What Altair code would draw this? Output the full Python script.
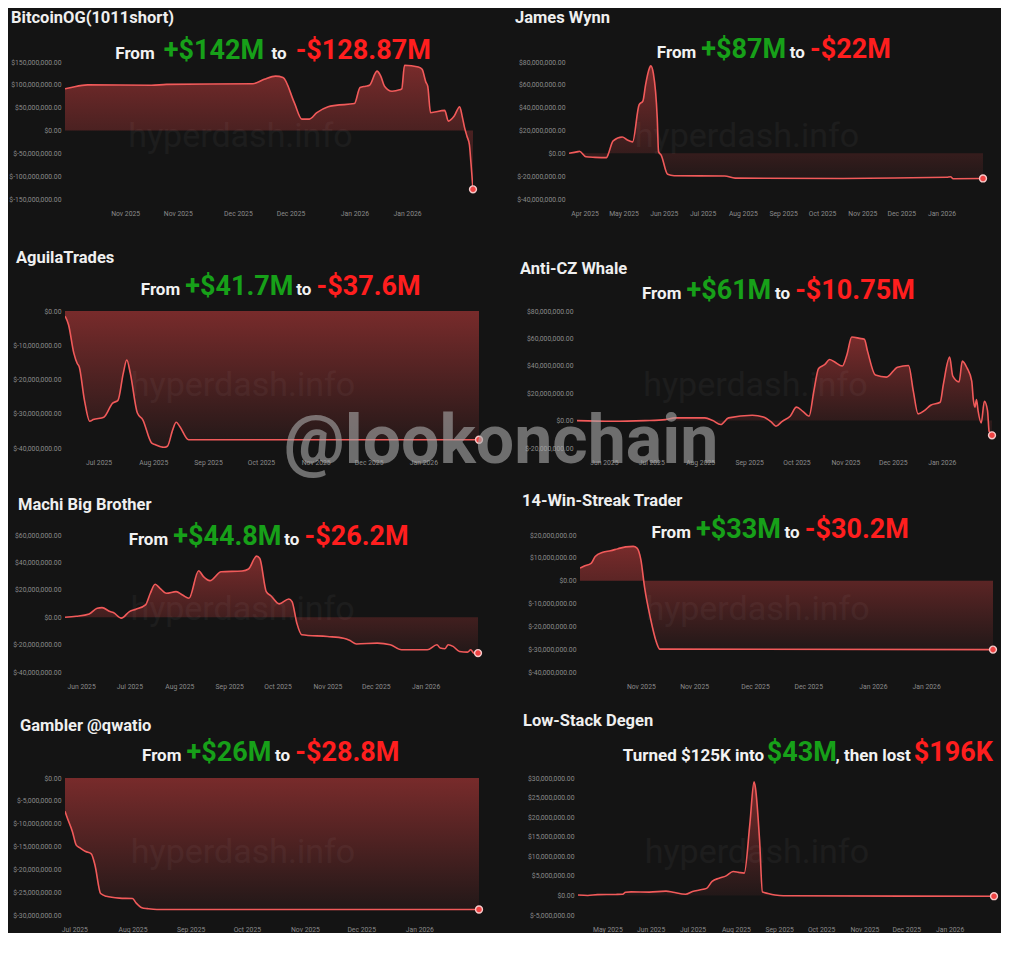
import altair as alt
import pandas as pd

# ---------------- data (PnL in $ millions) ----------------
btc_dates = ["2025-10-16", "2025-10-17", "2025-10-22", "2025-11-08", "2025-11-12", "2025-12-05",
             "2025-12-08", "2025-12-11", "2025-12-13", "2025-12-16", "2025-12-18", "2025-12-20",
             "2025-12-22", "2025-12-25", "2025-12-27", "2026-01-01", "2026-01-02 12:00", "2026-01-04",
             "2026-01-05", "2026-01-07", "2026-01-08", "2026-01-09", "2026-01-11", "2026-01-13",
             "2026-01-13 14:00", "2026-01-14 08:00", "2026-01-18", "2026-01-19", "2026-01-20",
             "2026-01-20 12:00", "2026-01-21 06:00", "2026-01-25", "2026-01-26", "2026-01-27 12:00",
             "2026-01-29", "2026-01-29 16:00", "2026-01-30 06:00", "2026-01-30 22:00",
             "2026-01-31 14:00", "2026-02-01 00:00", "2026-02-01 13:00"]
btc_pnl = [91.5, 93, 100, 99, 101, 102.5, 112, 119, 116, 61,
           25, 25, 39, 52, 55, 59, 94, 97, 99, 130,
           119, 97, 86, 89, 91, 143, 139, 134, 106, 97,
           39, 44, 20.5, 31, 52, 31, 8, -12, -31, -71,
           -128.87]

jw_dates = ["2025-03-20", "2025-03-27", "2025-03-28", "2025-04-02", "2025-04-09", "2025-04-18",
            "2025-04-19", "2025-04-23", "2025-04-30", "2025-05-04", "2025-05-08", "2025-05-13",
            "2025-05-16", "2025-05-18", "2025-05-21", "2025-05-22", "2025-05-24", "2025-05-27",
            "2025-05-28", "2025-05-30", "2025-06-04", "2025-06-09", "2025-07-18", "2025-07-26",
            "2025-10-17", "2026-01-05", "2026-01-08", "2026-01-10", "2026-02-02"]
jw_pnl = [0, 1.5, 1.8, -3, -3.5, -3.8, -1.5, 11, 14.3, 11.7,
          10, 42.5, 46, 60, 74.7, 76.7, 70, 30.7, 1.5, -1.5,
          -18.4, -19.6, -19.9, -21.7, -22, -21, -20.5, -22.2, -22]

ag_dates = ["2025-06-12", "2025-06-14", "2025-06-17", "2025-06-19", "2025-06-20", "2025-06-23",
            "2025-06-26", "2025-06-28", "2025-07-04", "2025-07-09", "2025-07-12", "2025-07-15",
            "2025-07-17", "2025-07-19", "2025-07-23", "2025-07-26", "2025-07-31", "2025-08-02",
            "2025-08-07", "2025-08-09", "2025-08-12", "2025-08-14", "2025-08-16", "2025-08-21",
            "2026-02-01 12:00"]
ag_pnl = [-1.5, -4, -12.3, -15.4, -16.2, -26, -32.2, -31.7, -31, -26.9,
          -26.1, -18.2, -14.3, -18.2, -29.8, -31.7, -38.5, -39, -39.8, -39.5,
          -34.7, -32.5, -33.7, -37.6, -37.6]

cz_dates = ["2025-05-15", "2025-06-06", "2025-06-27", "2025-07-10", "2025-07-16", "2025-08-04",
            "2025-08-09", "2025-08-14", "2025-08-19", "2025-09-03", "2025-09-10", "2025-09-15",
            "2025-09-18", "2025-09-22", "2025-09-27", "2025-10-01", "2025-10-05", "2025-10-09",
            "2025-10-12", "2025-10-15", "2025-10-19", "2025-10-22", "2025-10-25", "2025-10-30",
            "2025-11-02", "2025-11-05", "2025-11-10", "2025-11-13", "2025-11-15", "2025-11-20",
            "2025-11-27", "2025-12-04", "2025-12-11", "2025-12-14", "2025-12-17", "2025-12-21",
            "2025-12-25", "2025-12-31", "2026-01-02", "2026-01-06", "2026-01-08", "2026-01-12",
            "2026-01-14", "2026-01-17", "2026-01-20", "2026-01-21", "2026-01-22", "2026-01-23",
            "2026-01-24", "2026-01-26", "2026-01-28", "2026-01-30", "2026-01-31", "2026-02-01 20:00"]
cz_pnl = [0, -0.5, 0, 0.7, 2, 2, 0, -2.9, 2, 3.9,
          2.7, -1, -4.1, -0.5, 3.2, 9.8, 6.8, 3.2, 21.5, 38,
          41, 44.6, 42.9, 39.8, 48.3, 61, 60, 59.3, 50.7, 33.2,
          31.7, 39, 40.2, 21.5, 4.9, 7.3, 11.2, 13.4, 26.3, 46.3,
          32.4, 28.3, 43.4, 38.5, 28.8, 15.4, 9.8, 15.4, 7.3, -1.7,
          14.1, 7.3, -7.8, -10.75]

mb_dates = ["2025-05-22", "2025-05-29", "2025-06-06", "2025-06-11", "2025-06-14", "2025-06-19",
            "2025-06-21", "2025-06-26", "2025-07-01", "2025-07-05", "2025-07-11", "2025-07-14",
            "2025-07-17", "2025-07-20", "2025-07-24", "2025-07-30", "2025-08-03", "2025-08-07",
            "2025-08-13", "2025-08-16", "2025-08-20", "2025-08-27", "2025-09-09", "2025-09-13",
            "2025-09-18", "2025-09-20", "2025-09-24", "2025-09-27", "2025-10-02", "2025-10-08",
            "2025-10-10", "2025-10-13", "2025-10-16", "2025-11-01", "2025-11-11", "2025-11-15",
            "2025-11-19", "2025-12-02", "2025-12-10", "2025-12-17", "2026-01-02", "2026-01-08",
            "2026-01-10", "2026-01-13", "2026-01-15", "2026-01-18", "2026-01-22", "2026-01-27",
            "2026-01-29", "2026-01-31", "2026-02-02 12:00"]
mb_pnl = [0, 0.7, 2.4, 6.5, 7, 4.1, 3.4, -0.7, 4.1, 5.8,
          9, 17.5, 24, 21.1, 17.5, 18.7, 16.2, 13.8, 33.9, 29.6,
          26.7, 33.2, 33.7, 35.2, 44.6, 42.9, 18.7, 15.5, 9.7, 13.3,
          11.4, -4.4, -12.8, -14.1, -15.3, -17, -19.6, -18.9, -20.1, -23.8,
          -23.8, -20.1, -22.5, -23, -20.1, -21.3, -25, -25.5, -23.8, -26.2,
          -26.2]

ws_dates = ["2025-10-16", "2025-10-17", "2025-10-19", "2025-10-20", "2025-10-22", "2025-10-24",
            "2025-10-26", "2025-10-28", "2025-10-30", "2025-10-31", "2025-11-01", "2025-11-02",
            "2025-11-03 12:00", "2025-11-05", "2025-11-06", "2026-02-01 14:00"]
ws_pnl = [5.5, 6.3, 7.7, 10.6, 12.4, 13.1, 14, 14.8, 15, 14.3, 9.2, -3.2, -16.3, -26.5, -30, -30.2]

gq_dates = ["2025-06-26", "2025-06-27", "2025-06-30", "2025-07-02", "2025-07-04", "2025-07-07",
            "2025-07-10", "2025-07-12", "2025-07-15", "2025-07-18", "2025-07-25", "2025-08-01",
            "2025-08-03", "2025-08-06", "2025-08-09", "2025-08-14", "2026-02-01 20:00"]
gq_pnl = [-7.3, -8.5, -11.8, -14.7, -15.3, -16.1, -16.6, -19.1, -25.3, -25.9,
          -26.3, -26.4, -27.4, -28.4, -28.6, -28.8, -28.8]

ls_dates = ["2025-04-10", "2025-04-17", "2025-04-24", "2025-05-07", "2025-05-12", "2025-05-14",
            "2025-05-18", "2025-05-31", "2025-06-12", "2025-06-17", "2025-06-26", "2025-07-01",
            "2025-07-06", "2025-07-11", "2025-07-15", "2025-07-20", "2025-07-25", "2025-07-30",
            "2025-08-03", "2025-08-07", "2025-08-11", "2025-08-14", "2025-08-15", "2025-08-18",
            "2025-08-20", "2025-08-24", "2025-08-29", "2025-09-04", "2026-02-01 18:00"]
ls_pnl = [0.1, 0, 0.2, 0.25, 0.3, 0.8, 0.9, 0.85, 1.1, 0.8,
          0.3, 1, 1.4, 1.8, 3.6, 4.4, 5, 6.1, 5.9, 5.7,
          18.2, 29, 27.5, 13.9, 0.9, 0.5, 0.1, -0.1, -0.196]

# ---------------- tick labels ----------------
half_month_ticks = ["2025-11-01", "2025-11-15", "2025-12-01", "2025-12-15", "2026-01-01", "2026-01-15"]
jw_ticks = ["2025-04-01", "2025-05-01", "2025-06-01", "2025-07-01", "2025-08-01", "2025-09-01",
            "2025-10-01", "2025-11-01", "2025-12-01", "2026-01-01"]
jul_ticks = ["2025-07-01", "2025-08-01", "2025-09-01", "2025-10-01", "2025-11-01", "2025-12-01", "2026-01-01"]
jun_ticks = ["2025-06-01"] + jul_ticks
may_ticks = ["2025-05-01"] + jun_ticks

btc_y = [-150, -100, -50, 0, 50, 100, 150]
jw_y = [-40, -20, 0, 20, 40, 60, 80]
ag_y = [-40, -30, -20, -10, 0]
cz_y = [-20, 0, 20, 40, 60, 80]
mb_y = [-40, -20, 0, 20, 40, 60]
ws_y = [-40, -30, -20, -10, 0, 10, 20]
gq_y = [-30, -25, -20, -15, -10, -5, 0]
ls_y = [-5, 0, 5, 10, 15, 20, 25, 30]

# ---------------- headline texts ----------------
GREEN = "#17a019"
RED = "#ff1e1e"
WHITE = "#f2f2f2"

def from_to(gain, loss):
    return [("From", WHITE, 17), (gain, GREEN, 27), ("to", WHITE, 17), (loss, RED, 27)]

names = ["BitcoinOG(1011short)", "James Wynn", "AguilaTrades", "Anti-CZ Whale",
         "Machi Big Brother", "14-Win-Streak Trader", "Gambler @qwatio", "Low-Stack Degen"]
headlines = [
    from_to("+$142M", "-$128.87M"),
    from_to("+$87M", "-$22M"),
    from_to("+$41.7M", "-$37.6M"),
    from_to("+$61M", "-$10.75M"),
    from_to("+$44.8M", "-$26.2M"),
    from_to("+$33M", "-$30.2M"),
    from_to("+$26M", "-$28.8M"),
    [("Turned $125K into ", WHITE, 17), ("$43M", GREEN, 27), (", then lost ", WHITE, 17), ("$196K", RED, 27)],
]

# ---------------- styling ----------------
FONT = "Roboto"
BG = "#141414"
LINE = "#f15a5a"
AXIS_GRAY = "#8a8a8a"
H = 137

RB = {' ': .248, '$': .558, '+': .545, '-': .272, '.': .273, ',': .219, 'K': .625, 'M': .865,
      'F': .544, 'T': .608, 'r': .353, 'o': .559, 'm': .867, 't': .341, 'u': .551, 'n': .552,
      'e': .526, 'd': .558, 'i': .252, 'h': .55, 'l': .252, 's': .515}


def tw(s, fs):
    return sum(RB.get(ch, .562) for ch in s) * fs


def ms(s):
    return int(pd.Timestamp(s, tz="UTC").value // 10**6)


grad = alt.Gradient(gradient="linear",
                    stops=[alt.GradientStop(color="#782b2b", offset=0),
                           alt.GradientStop(color="#221818", offset=1)],
                    x1=1, x2=1, y1=0, y2=1)

YEXPR = ("datum.value < 0 ? '$-' + format(-datum.value, ',.2f') : '$' + format(datum.value, ',.2f')")
XEXPR = "utcFormat(datum.value, '%b %Y')"


def label_layer(text, x, y, **mark):
    return alt.Chart(pd.DataFrame({"label": [text]})).mark_text(font=FONT, **mark).encode(
        x=alt.value(x), y=alt.value(y), text="label:N")


def panel(idx, dates, vals, xticks, yticks, w, ext, name_dx, name_dy, head_dx, head_dy, gap, extra=None):
    df = pd.DataFrame({"date": [ms(d) for d in dates], "pnl": [v * 1e6 for v in vals]})
    xs = alt.Scale(type="utc", domain=[ms(dates[0]), ms(dates[-1])], nice=False)
    ys = alt.Scale(domain=[yticks[0] * 1e6, yticks[-1] * 1e6], nice=False, zero=False)
    xax = alt.Axis(values=[ms(d) for d in xticks], labelExpr=XEXPR, title=None,
                   labelPadding=11, labelOverlap=False, labelFlush=False)
    yax = alt.Axis(values=[v * 1e6 for v in yticks], labelExpr=YEXPR, title=None, labelPadding=4,
                   minExtent=ext, labelOverlap=False, labelFlush=False)
    X = alt.X("date:T", scale=xs, axis=xax)
    Y = alt.Y("pnl:Q", scale=ys, axis=yax)
    base = alt.Chart(df).encode(x=X, y=Y)
    area = base.mark_area(interpolate="monotone", fill=grad, clip=True).encode(y2=alt.datum(0))
    line = base.mark_line(interpolate="monotone", color=LINE, strokeWidth=1.6, clip=True)
    dot = alt.Chart(df.tail(1)).mark_circle(size=48, fill="#ef4444", stroke="#f6c9c9",
                                            strokeWidth=1.4, opacity=1).encode(x=X, y=Y)
    wm = label_layer("hyperdash.info", w * 0.43, H * 0.55, fontSize=34, color="#ffffff",
                     opacity=0.035, align="center", baseline="middle")
    nm = label_layer(names[idx], name_dx, name_dy, fontSize=16.5, fontWeight="bold",
                     color="#efefef", align="left", baseline="middle")
    parts = headlines[idx]
    widths = [tw(t, s) for t, c, s in parts]
    total = sum(widths) + gap * (len(parts) - 1)
    x = w / 2 + head_dx - total / 2
    segs = []
    for (t, c, s), wd in zip(parts, widths):
        segs.append(label_layer(t.strip(), x, head_dy + 10, fontSize=s, fontWeight="bold", color=c,
                                align="left", baseline="alphabetic"))
        x += wd + gap
    layers = [area, wm, line, dot, nm] + segs
    if extra is not None:
        layers.append(extra)
    return alt.layer(*layers).properties(width=w, height=H)


lookonchain = label_layer("@lookonchain", -76, 152, fontSize=68, fontWeight="bold", color="#a6a6a6",
                          opacity=0.62, align="center", baseline="alphabetic")

p_btc = panel(0, btc_dates, btc_pnl, half_month_ticks, btc_y, 408, 55, -54, -44, 1, -13, 9)
p_jw = panel(1, jw_dates, jw_pnl, jw_ticks, jw_y, 414, 50, -54, -44, -4.5, -14, 5)
p_ag = panel(2, ag_dates, ag_pnl, jul_ticks, ag_y, 414, 53, -49, -53, 6, -26, 5)
p_cz = panel(3, cz_dates, cz_pnl, jun_ticks, cz_y, 415, 50, -57, -42, -9, -22, 5, extra=lookonchain)
p_mb = panel(4, mb_dates, mb_pnl, jun_ticks, mb_y, 413, 52, -47, -30, -5.5, 0, 5)
p_ws = panel(5, ws_dates, ws_pnl, half_month_ticks, ws_y, 413, 50, -58, -34, -9, -7, 5)
p_gq = panel(6, gq_dates, gq_pnl, jul_ticks, gq_y, 414, 50, -45, -52, -4, -27, 5)
p_ls = panel(7, ls_dates, ls_pnl, may_ticks, ls_y, 416, 50, -55, -57, 21, -27, 0)

row1 = alt.hconcat(p_btc, p_jw, spacing=96, bounds="flush")
row2 = alt.hconcat(p_ag, p_cz, spacing=98, bounds="flush")
row3 = alt.hconcat(p_mb, p_ws, spacing=102, bounds="flush")
row4 = alt.hconcat(p_gq, p_ls, spacing=99, bounds="flush")

chart = alt.vconcat(
    row1,
    alt.vconcat(row2, alt.vconcat(row3, row4, spacing=23), spacing=16),
    spacing=33,
).configure(background=BG, padding={"left": 0, "top": 2, "right": 0, "bottom": 0}).configure_view(
    stroke=None).configure_axis(
    grid=False, domain=False, ticks=False, labelColor=AXIS_GRAY, labelFont=FONT, labelFontSize=6.8)

chart.save("out.html", embed_options={"renderer": "svg", "actions": False})
